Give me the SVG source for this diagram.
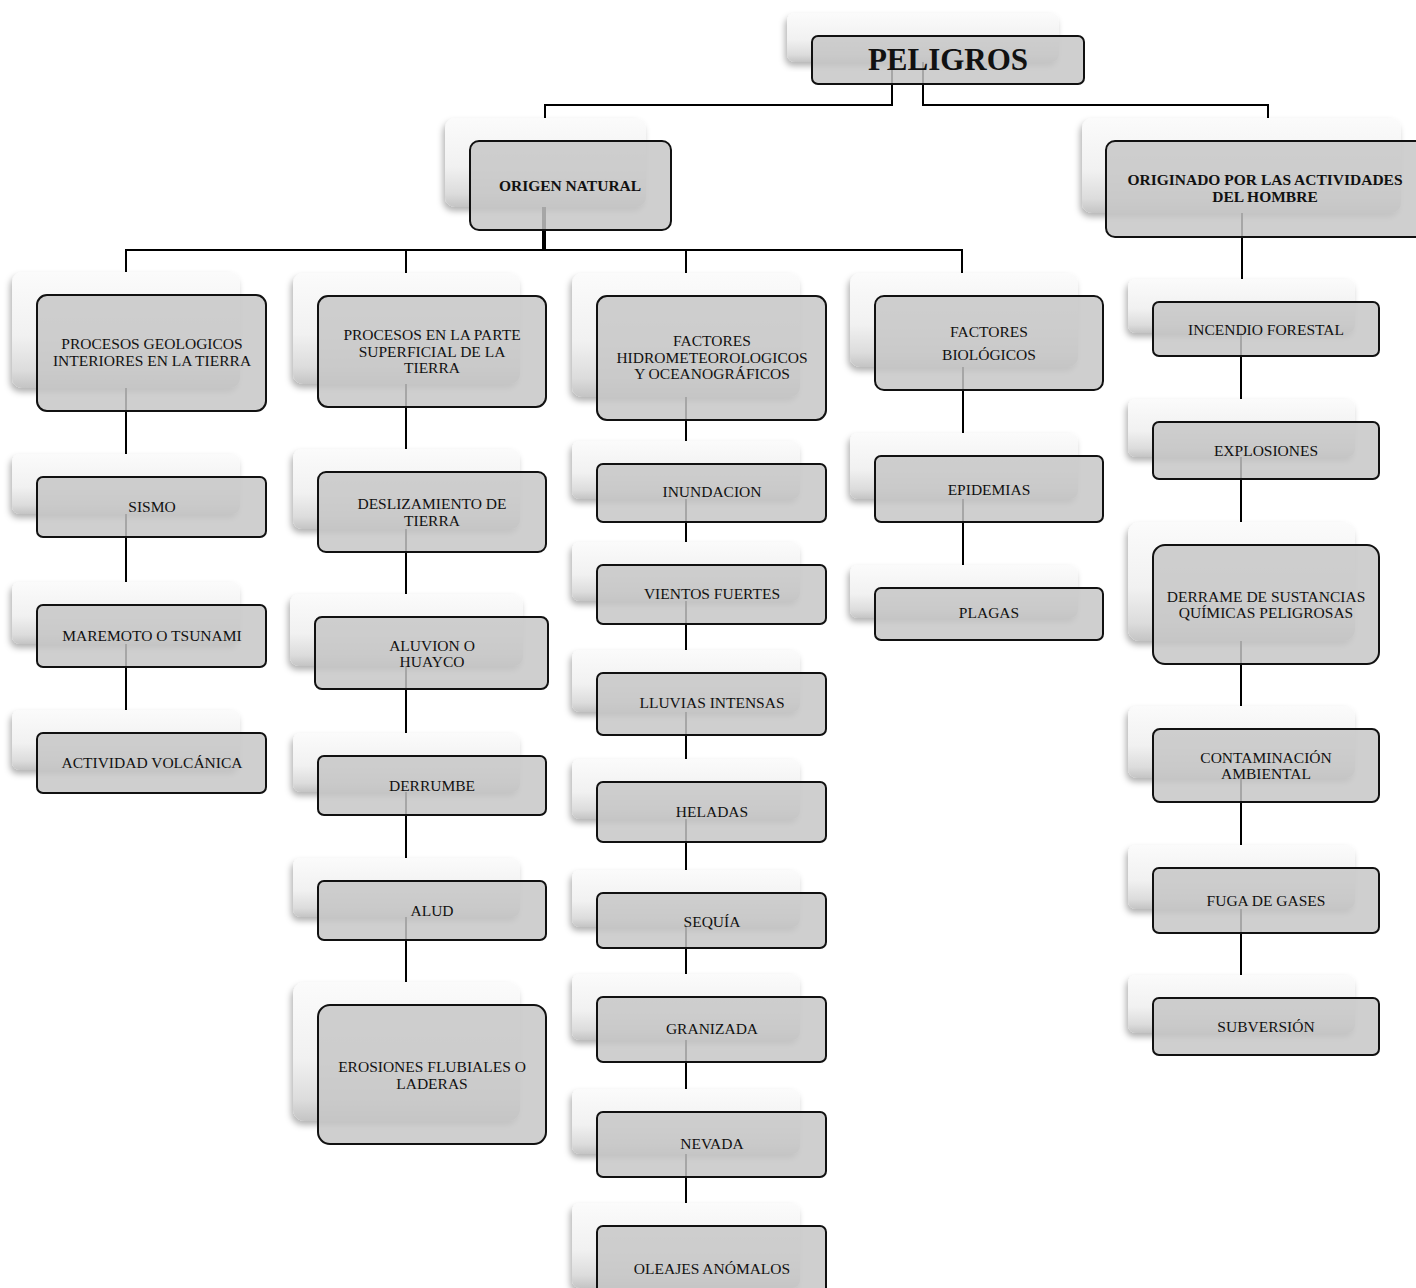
<svg xmlns="http://www.w3.org/2000/svg" width="1416" height="1288" viewBox="0 0 1416 1288">
<defs>
<linearGradient id="bg" x1="0" y1="0" x2="0" y2="1">
<stop offset="0" stop-color="#fbfbfb"/>
<stop offset="0.55" stop-color="#f1f1f1"/>
<stop offset="0.85" stop-color="#dcdcdc"/>
<stop offset="1" stop-color="#c4c4c4"/>
</linearGradient>
<filter id="sh" x="-10%" y="-10%" width="120%" height="130%">
<feDropShadow dx="-2" dy="4" stdDeviation="3" flood-color="#000" flood-opacity="0.3"/>
</filter>
</defs>
<style>
.bk{fill:url(#bg);filter:url(#sh)}
.fr{fill:#c6c6c6;fill-opacity:0.84;stroke:#111;stroke-width:2}
.ln{fill:none;stroke:#000;stroke-width:2}
.th{fill:none;stroke:#000;stroke-width:4}
text{font-family:"Liberation Serif","Times New Roman",serif;font-size:15.5px;fill:#111;text-anchor:middle}
.b{font-weight:bold}
.big{font-weight:bold;font-size:31px}
</style>
<rect width="1416" height="1288" fill="#fff"/>
<g id="connectors">
<path class="ln" d="M892,60 V105 H545 V118"/>
<path class="ln" d="M923,60 V105 H1268 V118"/>
<path class="th" d="M544,185 V250"/>
<path class="ln" d="M126,273 V250 H962 V273"/>
<path class="ln" d="M406,250 V273 M686,250 V273"/>
<path class="ln" d="M126,353 V454 M126,507 V582 M126,636 V710"/>
<path class="ln" d="M406,351 V449 M406,512 V594 M406,653 V733 M406,785 V858 M406,910 V982"/>
<path class="ln" d="M686,358 V441 M686,493 V542 M686,594 V650 M686,704 V759 M686,812 V870 M686,920 V974 M686,1029 V1089 M686,1144 V1203"/>
<path class="ln" d="M963,343 V433 M963,489 V565"/>
<path class="ln" d="M1242,189 V279 M1241,329 V399 M1241,450 V522 M1241,604 V706 M1241,765 V845 M1241,900 V975"/>
</g>
<g id="n_peligros"><rect class="bk" x="787" y="13" width="272" height="49" rx="8"/><rect class="fr" x="812" y="36" width="272" height="48" rx="6"/><text class="big" x="948" y="70">PELIGROS</text></g>
<g id="n_natural"><rect class="bk" x="445" y="118" width="201" height="89" rx="10"/><rect class="fr" x="470" y="141" width="201" height="89" rx="9"/><text class="b" x="570" y="191">ORIGEN NATURAL</text></g>
<g id="n_hombre"><rect class="bk" x="1082" y="118" width="319" height="95" rx="10"/><rect class="fr" x="1106" y="141" width="320" height="96" rx="9"/><text class="b" x="1265" y="185">ORIGINADO POR LAS ACTIVIDADES</text><text class="b" x="1265" y="202">DEL HOMBRE</text></g>

<g id="n_geo"><rect class="bk" x="12" y="272" width="228" height="116" rx="10"/><rect class="fr" x="37" y="295" width="229" height="116" rx="10"/><text x="152" y="349">PROCESOS GEOLOGICOS</text><text x="152" y="366">INTERIORES EN LA TIERRA</text></g>
<g id="n_sismo"><rect class="bk" x="12" y="454" width="228" height="60" rx="8"/><rect class="fr" x="37" y="477" width="229" height="60" rx="6"/><text x="152" y="512">SISMO</text></g>
<g id="n_maremoto"><rect class="bk" x="12" y="582" width="228" height="62" rx="8"/><rect class="fr" x="37" y="605" width="229" height="62" rx="6"/><text x="152" y="641">MAREMOTO O TSUNAMI</text></g>
<g id="n_volc"><rect class="bk" x="12" y="710" width="228" height="60" rx="8"/><rect class="fr" x="37" y="733" width="229" height="60" rx="6"/><text x="152" y="768">ACTIVIDAD VOLCÁNICA</text></g>

<g id="n_sup"><rect class="bk" x="293" y="273" width="227" height="111" rx="10"/><rect class="fr" x="318" y="296" width="228" height="111" rx="10"/><text x="432" y="340">PROCESOS EN LA PARTE</text><text x="432" y="357">SUPERFICIAL DE LA</text><text x="432" y="373">TIERRA</text></g>
<g id="n_desl"><rect class="bk" x="293" y="449" width="227" height="80" rx="9"/><rect class="fr" x="318" y="472" width="228" height="80" rx="8"/><text x="432" y="509">DESLIZAMIENTO DE</text><text x="432" y="526">TIERRA</text></g>
<g id="n_aluv"><rect class="bk" x="290" y="594" width="233" height="72" rx="9"/><rect class="fr" x="315" y="617" width="233" height="72" rx="7"/><text x="432" y="651">ALUVION O</text><text x="432" y="667">HUAYCO</text></g>
<g id="n_derr"><rect class="bk" x="293" y="733" width="227" height="59" rx="8"/><rect class="fr" x="318" y="756" width="228" height="59" rx="6"/><text x="432" y="791">DERRUMBE</text></g>
<g id="n_alud"><rect class="bk" x="293" y="858" width="227" height="59" rx="8"/><rect class="fr" x="318" y="881" width="228" height="59" rx="6"/><text x="432" y="916">ALUD</text></g>
<g id="n_eros"><rect class="bk" x="293" y="982" width="227" height="139" rx="12"/><rect class="fr" x="318" y="1005" width="228" height="139" rx="12"/><text x="432" y="1072">EROSIONES FLUBIALES O</text><text x="432" y="1089">LADERAS</text></g>

<g id="n_hidro"><rect class="bk" x="572" y="273" width="228" height="124" rx="10"/><rect class="fr" x="597" y="296" width="229" height="124" rx="10"/><text x="712" y="346">FACTORES</text><text x="712" y="363">HIDROMETEOROLOGICOS</text><text x="712" y="379">Y OCEANOGRÁFICOS</text></g>
<g id="n_inund"><rect class="bk" x="572" y="441" width="228" height="58" rx="8"/><rect class="fr" x="597" y="464" width="229" height="58" rx="6"/><text x="712" y="497">INUNDACION</text></g>
<g id="n_vient"><rect class="bk" x="572" y="542" width="228" height="59" rx="8"/><rect class="fr" x="597" y="565" width="229" height="59" rx="6"/><text x="712" y="599">VIENTOS FUERTES</text></g>
<g id="n_lluv"><rect class="bk" x="572" y="650" width="228" height="62" rx="8"/><rect class="fr" x="597" y="673" width="229" height="62" rx="6"/><text x="712" y="708">LLUVIAS INTENSAS</text></g>
<g id="n_hel"><rect class="bk" x="572" y="759" width="228" height="60" rx="8"/><rect class="fr" x="597" y="782" width="229" height="60" rx="6"/><text x="712" y="817">HELADAS</text></g>
<g id="n_seq"><rect class="bk" x="572" y="870" width="228" height="57" rx="8"/><rect class="fr" x="597" y="893" width="229" height="55" rx="6"/><text x="712" y="927">SEQUÍA</text></g>
<g id="n_gran"><rect class="bk" x="572" y="974" width="228" height="66" rx="8"/><rect class="fr" x="597" y="997" width="229" height="65" rx="6"/><text x="712" y="1034">GRANIZADA</text></g>
<g id="n_nev"><rect class="bk" x="572" y="1089" width="228" height="65" rx="8"/><rect class="fr" x="597" y="1112" width="229" height="65" rx="6"/><text x="712" y="1149">NEVADA</text></g>
<g id="n_olea"><rect class="bk" x="572" y="1203" width="228" height="85" rx="8"/><rect class="fr" x="597" y="1226" width="229" height="72" rx="6"/><text x="712" y="1274">OLEAJES ANÓMALOS</text></g>

<g id="n_bio"><rect class="bk" x="850" y="273" width="228" height="94" rx="10"/><rect class="fr" x="875" y="296" width="228" height="94" rx="9"/><text x="989" y="337">FACTORES</text><text x="989" y="360">BIOLÓGICOS</text></g>
<g id="n_epi"><rect class="bk" x="850" y="433" width="228" height="66" rx="8"/><rect class="fr" x="875" y="456" width="228" height="66" rx="6"/><text x="989" y="495">EPIDEMIAS</text></g>
<g id="n_plag"><rect class="bk" x="850" y="565" width="228" height="53" rx="8"/><rect class="fr" x="875" y="588" width="228" height="52" rx="6"/><text x="989" y="618">PLAGAS</text></g>

<g id="n_inc"><rect class="bk" x="1128" y="279" width="227" height="54" rx="8"/><rect class="fr" x="1153" y="302" width="226" height="54" rx="6"/><text x="1266" y="335">INCENDIO FORESTAL</text></g>
<g id="n_exp"><rect class="bk" x="1128" y="399" width="227" height="58" rx="8"/><rect class="fr" x="1153" y="422" width="226" height="57" rx="6"/><text x="1266" y="456">EXPLOSIONES</text></g>
<g id="n_derrame"><rect class="bk" x="1128" y="522" width="227" height="119" rx="12"/><rect class="fr" x="1153" y="545" width="226" height="119" rx="12"/><text x="1266" y="602">DERRAME DE SUSTANCIAS</text><text x="1266" y="618">QUÍMICAS PELIGROSAS</text></g>
<g id="n_cont"><rect class="bk" x="1128" y="706" width="227" height="72" rx="9"/><rect class="fr" x="1153" y="729" width="226" height="73" rx="7"/><text x="1266" y="763">CONTAMINACIÓN</text><text x="1266" y="779">AMBIENTAL</text></g>
<g id="n_fuga"><rect class="bk" x="1128" y="845" width="227" height="64" rx="8"/><rect class="fr" x="1153" y="868" width="226" height="65" rx="6"/><text x="1266" y="906">FUGA DE GASES</text></g>
<g id="n_subv"><rect class="bk" x="1128" y="975" width="227" height="58" rx="8"/><rect class="fr" x="1153" y="998" width="226" height="57" rx="6"/><text x="1266" y="1032">SUBVERSIÓN</text></g>
</svg>
